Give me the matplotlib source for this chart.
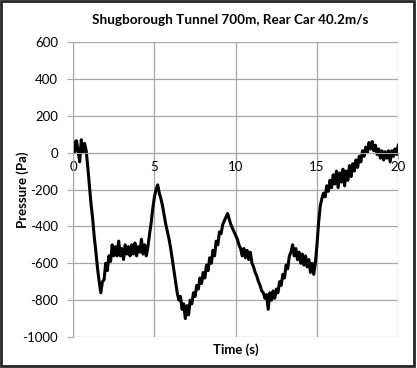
import numpy as np
import matplotlib
matplotlib.use('Agg')
import matplotlib.pyplot as plt
from matplotlib.patches import Rectangle

# pressure trace, one value every 0.1 s (0 .. 20 s)
pressure = [
    60, 5, 65, 10, -50, 70, 0, 50, 10, -80,
    -180, -280, -360, -460, -540, -630, -700, -760, -700, -690,
    -600, -640, -560, -590, -500, -560, -510, -560, -480, -560,
    -520, -580, -500, -550, -510, -560, -500, -550, -490, -560,
    -510, -540, -470, -550, -500, -560, -510, -440, -380, -300,
    -240, -200, -175, -220, -250, -290, -340, -390, -430, -470,
    -520, -580, -640, -700, -760, -800, -780, -850, -820, -900,
    -830, -880, -800, -820, -760, -780, -720, -740, -680, -710,
    -650, -680, -610, -640, -570, -600, -530, -560, -480, -500,
    -430, -440, -390, -370, -350, -330, -360, -390, -410, -430,
    -450, -470, -500, -520, -560, -520, -570, -530, -580, -540,
    -600, -620, -650, -670, -700, -720, -750, -760, -790, -770,
    -850, -760, -800, -750, -790, -740, -760, -700, -720, -660,
    -680, -610, -630, -560, -540, -500, -560, -520, -580, -540,
    -600, -550, -610, -560, -620, -580, -650, -600, -660, -600,
    -500, -380, -290, -250, -220, -240, -180, -210, -150, -190,
    -120, -170, -100, -190, -110, -160, -90, -180, -100, -150,
    -70, -130, -60, -100, -40, -80, -20, -50, 10, -20,
    30, 0, 55, 20, 60, 10, 40, -10, 20, -30,
    10, -40, 5, -30, 10, -50, 10, -20, 20, -10,
    40,
]
time = np.arange(len(pressure)) * 0.1

x_ticks = [0, 5, 10, 15, 20]
y_ticks = [-1000, -800, -600, -400, -200, 0, 200, 400, 600]

title = 'Shugborough Tunnel 700m, Rear Car 40.2m/s'
font = ['Lato', 'DejaVu Sans']
grid_col = '#a6a6a6'
plt.rcParams['axes.unicode_minus'] = False

fig = plt.figure(figsize=(4.17, 3.68), dpi=100)
ax = fig.add_axes([0.1755, 0.0842, 0.7795, 0.8017])

ax.plot(time, pressure, color='black', lw=2.2, solid_joinstyle='round')

ax.set_xlim(0, 20)
ax.set_ylim(-1000, 600)
ax.set_xticks(x_ticks)
ax.set_yticks(y_ticks)
ax.grid(True, color=grid_col, lw=0.9)
ax.set_axisbelow(True)

for s in ['top', 'right']:
    ax.spines[s].set_visible(False)
ax.spines['left'].set_color(grid_col)
ax.spines['bottom'].set_color(grid_col)
ax.spines['bottom'].set_position(('data', 0))

ax.tick_params(axis='y', length=4, color=grid_col, labelsize=9.5, pad=7)
ax.tick_params(axis='x', length=4, color=grid_col, labelsize=9.5, pad=2)
for lab in ax.get_xticklabels() + ax.get_yticklabels():
    lab.set_family(font)

fig.text(230 / 417, 1 - 20 / 368, title, fontsize=9.7, fontweight='bold',
         family=font, ha='center', va='center')
ax.set_xlabel('Time (s)', fontsize=9.5, fontweight='bold', family=font)
ax.xaxis.set_label_coords(0.5, -0.02)
ax.set_ylabel('Pressure (Pa)', fontsize=9.5, fontweight='bold', family=font)
ax.yaxis.set_label_coords(-0.135, 0.5)

# chart frame
fig.patches.append(Rectangle((0.003, 0.006), 0.991, 0.99, transform=fig.transFigure,
                             fill=False, edgecolor='#262626', lw=2))

fig.savefig('out.png', dpi=100)
